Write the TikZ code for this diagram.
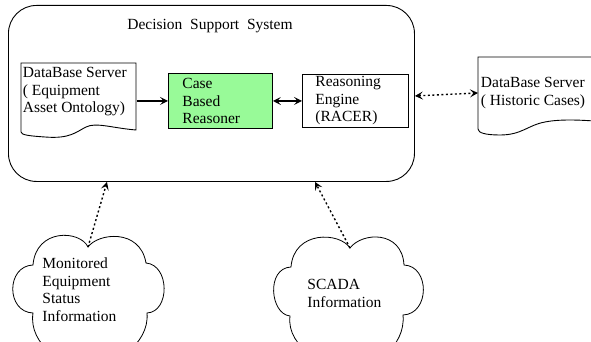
\documentclass[tikz,border=0pt]{standalone}
\usepackage{fontspec}
\setmainfont{Liberation Serif}
\usetikzlibrary{arrows.meta,calc}
\definecolor{cbrgreen}{RGB}{152,250,152}
\begin{document}
\begin{tikzpicture}[x=1pt,y=-1pt,
  font=\fontsize{15.5}{17.5}\selectfont,
  line width=0.9pt,
  solidarrow/.style={line width=1.4pt,-{Stealth[length=8pt,width=8pt,inset=3.5pt]}},
  dblarrow/.style={line width=1.4pt,{Stealth[length=8pt,width=8pt,inset=3.5pt]}-{Stealth[length=8pt,width=8pt,inset=3.5pt]}},
  dotarrow/.style={line width=1.4pt,dash pattern=on 2pt off 2.5pt,-{Stealth[length=8pt,width=8pt,inset=3.5pt,sep=0pt]}},
  dotdbl/.style={line width=1.4pt,dash pattern=on 2pt off 2.5pt,{Stealth[length=8pt,width=8pt,inset=3.5pt]}-{Stealth[length=8pt,width=8pt,inset=3.5pt]}},
  boxnode/.style={draw,line width=0.9pt,rectangle,align=left,inner ysep=0pt,anchor=north west},
  txt/.style={inner sep=0pt,align=left,anchor=west},
  cloudline/.style={line width=0.8pt}
]
\useasboundingbox (0,0) rectangle (591,342);
\fill[white] (0,0) rectangle (591,342);

% outer system box
\node (dss) [draw,rounded corners=28pt,minimum width=406pt,minimum height=176pt,inner sep=0pt,anchor=north west] at (8,5) {};
\node (title) at (210,26) {Decision\ \ Support\ \ System};

% document 1
\draw (21,63) -- (136,63) -- (136,130)
  .. controls (112,128) and (96,122) .. (86,127)
  .. controls (76,132) and (70,139) .. (45,137)
  .. controls (30,136) and (21,135) .. (21,132) -- cycle;
\node (db1) [inner sep=0pt,minimum width=115pt,minimum height=67pt,anchor=north west] at (21,63) {};
\node (db1t) [txt] at (22.5,92) {DataBase Server\\( Equipment\\Asset Ontology)};

% case based reasoner
\node (cbr) [boxnode,fill=cbrgreen,minimum width=104pt,minimum height=55pt,text width=76pt,inner xsep=14pt] at (168,73) {Case\\Based\\Reasoner};

% reasoning engine
\node (re) [boxnode,minimum width=106pt,minimum height=53pt,text width=80pt,inner xsep=13pt] at (302,74) {Reasoning\\Engine\\(RACER)};

% document 2
\draw (594,57) -- (478,57) -- (478,129)
  .. controls (478,133) and (486,135) .. (500,135)
  .. controls (522,135) and (528,125) .. (545,122)
  .. controls (560,119) and (580,120) .. (594,121);
\node (db2) [inner sep=0pt,minimum width=116pt,minimum height=66pt,anchor=north west] at (478,57) {};
\node (db2t) [txt] at (480.5,93) {DataBase Server\\( Historic Cases)};

% cloud 1
\draw[cloudline] (88,247)
  .. controls (98,233) and (140,228) .. (146,263)
  .. controls (170,265) and (170,312) .. (147,313)
  .. controls (150,345) and (110,370) .. (88,362)
  .. controls (66,370) and (28,345) .. (33,313)
  .. controls (6,312) and (6,266) .. (33,265)
  .. controls (36,228) and (80,230) .. (88,247) -- cycle;
\coordinate (c1) at (88,247);
\node (c1t) [txt] at (42,289.5) {Monitored\\Equipment\\Status\\Information};

% cloud 2
\draw[cloudline] (350,248)
  .. controls (362,232) and (402,230) .. (404,265)
  .. controls (430,266) and (430,314) .. (403,315)
  .. controls (406,347) and (372,370) .. (350,362)
  .. controls (328,370) and (286,348) .. (290,316)
  .. controls (270,314) and (266,268) .. (291,267)
  .. controls (294,230) and (340,232) .. (350,248) -- cycle;
\coordinate (c2) at (350,248);
\node (c2t) [txt] at (307,293.5) {SCADA\\Information};

% connectors
\draw[solidarrow] (db1.east |- cbr.west) -- (cbr.west);
\draw[dblarrow] (cbr.east) -- (re.west |- cbr.east);
\draw[dotdbl] ([yshift=-2.5pt]dss.east) -- ([yshift=-2.5pt]db2.west);
\draw[dotarrow] (c1) -- ([xshift=99pt]dss.south west);
\draw[dotarrow] (c2) -- ([xshift=307pt]dss.south west);
\end{tikzpicture}
\end{document}
